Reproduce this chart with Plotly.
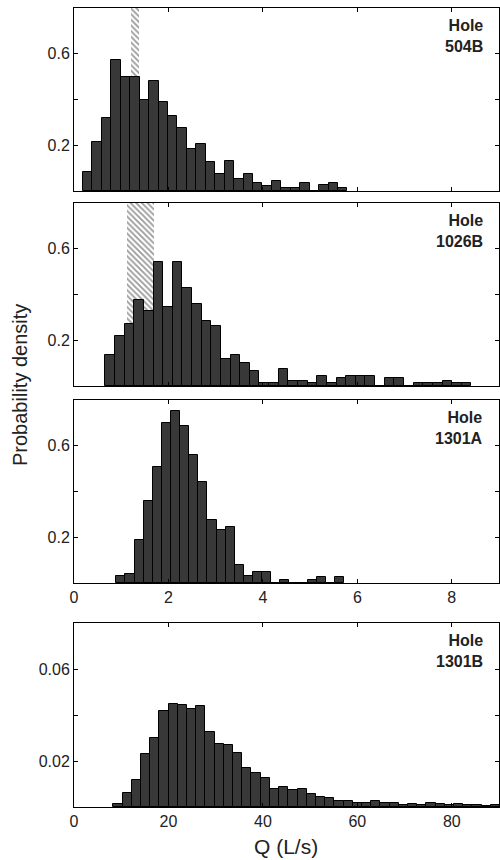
import plotly.graph_objects as go

# ---------------- data ----------------
# Hole 504B: bins start at 0.19, width 0.2
h504_start = 0.19
h504_width = 0.2
h504_density = [0.084, 0.216, 0.319, 0.571, 0.50, 0.50, 0.398, 0.479, 0.389, 0.328,
                0.277, 0.185, 0.206, 0.126, 0.075, 0.133, 0.054, 0.073, 0.033, 0.020,
                0.042, 0.013, 0.013, 0.035, 0.0, 0.025, 0.035, 0.013]
h504_hatch = [1.20, 1.38]

# Hole 1026B: bins start at 0.664, width 0.204
h1026_start = 0.664
h1026_width = 0.204
h1026_density = [0.136, 0.220, 0.271, 0.377, 0.327, 0.543, 0.345, 0.543, 0.430, 0.357,
                 0.283, 0.263, 0.117, 0.136, 0.099, 0.065, 0.012, 0.012, 0.076, 0.020,
                 0.020, 0.012, 0.044, 0.012, 0.035, 0.044, 0.044, 0.044, 0.0, 0.035,
                 0.035, 0.0, 0.012, 0.012, 0.012, 0.022, 0.012, 0.012]
h1026_hatch = [1.12, 1.70]

# Hole 1301A: bins start at 0.896, width 0.193
h1301a_start = 0.896
h1301a_width = 0.193
h1301a_density = [0.031, 0.041, 0.190, 0.359, 0.506, 0.699, 0.750, 0.687, 0.559, 0.441,
                  0.275, 0.231, 0.243, 0.078, 0.032, 0.047, 0.047, 0.0, 0.015, 0.0,
                  0.0, 0.015, 0.025, 0.0, 0.025]

# Hole 1301B: bins start at 8.33, width 1.95
h1301b_start = 8.33
h1301b_width = 1.95
h1301b_density = [0.0013, 0.0063, 0.0117, 0.0231, 0.0301, 0.0418, 0.0450, 0.0442, 0.0426, 0.0441,
                  0.0324, 0.0274, 0.0270, 0.0236, 0.0168, 0.0147, 0.0127, 0.0078, 0.0085, 0.0073,
                  0.0080, 0.0058, 0.0044, 0.0041, 0.0026, 0.0028, 0.0019, 0.0016, 0.0026, 0.0019,
                  0.0016, 0.0009, 0.0012, 0.0007, 0.0019, 0.0012, 0.0007, 0.0015, 0.0007, 0.0010,
                  0.0006, 0.0007]

panel_labels = ["Hole<br>504B", "Hole<br>1026B", "Hole<br>1301A", "Hole<br>1301B"]

x_ranges = [[0, 9], [0, 9], [0, 9], [0, 90]]
x_ticks = [[0, 2, 4, 6, 8], [0, 2, 4, 6, 8], [0, 2, 4, 6, 8], [0, 20, 40, 60, 80]]
x_ticktext = [["", "", "", "", ""], ["", "", "", "", ""],
              ["0", "2", "4", "6", "8"], ["0", "20", "40", "60", "80"]]
y_ranges = [[0, 0.8], [0, 0.8], [0, 0.8], [0, 0.08]]
y_ticks = [[0.2, 0.4, 0.6], [0.2, 0.4, 0.6], [0.2, 0.4, 0.6], [0.02, 0.04, 0.06]]
y_ticktext = [["0.2", "", "0.6"], ["0.2", "", "0.6"], ["0.2", "", "0.6"], ["0.02", "", "0.06"]]

# ---------------- figure ----------------
W, H = 500, 860
ML, MR, MT, MB = 74, 1, 8, 53
plot_h = H - MT - MB

# panel pixel extents (top, bottom)
panel_px = [(8, 191), (203, 386), (400, 583), (623, 807)]
domains = [[(H - MB - b) / plot_h, (H - MB - t) / plot_h] for t, b in panel_px]

fig = go.Figure()

panels = [
    (h504_start, h504_width, h504_density, h504_hatch),
    (h1026_start, h1026_width, h1026_density, h1026_hatch),
    (h1301a_start, h1301a_width, h1301a_density, None),
    (h1301b_start, h1301b_width, h1301b_density, None),
]

bar_fill = "#383838"
font_fam = "Liberation Sans, Arial, sans-serif"

for i, (start, width, dens, hatch) in enumerate(panels):
    xa = "x" if i == 0 else f"x{i+1}"
    ya = "y" if i == 0 else f"y{i+1}"
    if hatch is not None:
        fig.add_trace(go.Bar(
            x=[(hatch[0] + hatch[1]) / 2], y=[y_ranges[i][1]], width=[hatch[1] - hatch[0]],
            marker=dict(color="white", line=dict(width=0),
                        pattern=dict(shape="\\", fgcolor="#333333", bgcolor="white",
                                     size=4, solidity=0.45)),
            xaxis=xa, yaxis=ya, showlegend=False, hoverinfo="skip"))
    centers = [start + width * (k + 0.5) for k in range(len(dens))]
    fig.add_trace(go.Bar(
        x=centers, y=dens, width=[width] * len(dens),
        marker=dict(color=bar_fill, line=dict(color="black", width=1)),
        xaxis=xa, yaxis=ya, showlegend=False))

    xkey = "xaxis" if i == 0 else f"xaxis{i+1}"
    ykey = "yaxis" if i == 0 else f"yaxis{i+1}"
    axis_common = dict(showline=True, linecolor="black", linewidth=1, mirror="ticks",
                       ticks="inside", ticklen=4, tickcolor="black", showgrid=False,
                       zeroline=False, tickfont=dict(family=font_fam, size=16, color="#222"))
    fig.update_layout({
        xkey: dict(axis_common, domain=[0, 1], range=x_ranges[i], anchor=ya,
                   tickmode="array", tickvals=x_ticks[i], ticktext=x_ticktext[i]),
        ykey: dict(axis_common, domain=domains[i], range=y_ranges[i], anchor=xa,
                   tickmode="array", tickvals=y_ticks[i], ticktext=y_ticktext[i]),
    })
    fig.add_annotation(
        text=f"<b>{panel_labels[i]}</b>", xref=f"{xa} domain", yref=f"{ya} domain",
        x=0.966, y=0.96, xanchor="right", yanchor="top", align="right", showarrow=False,
        font=dict(family=font_fam, size=16, color="#222"))

fig.add_annotation(text="Probability density", xref="paper", yref="paper",
                   x=(20 - ML) / (W - ML - MR), y=(H - MB - 385) / plot_h,
                   xanchor="center", yanchor="middle", textangle=-90, showarrow=False,
                   font=dict(family=font_fam, size=20, color="#222"))
fig.add_annotation(text="Q (L/s)", xref="paper", yref="paper",
                   x=(286 - ML) / (W - ML - MR), y=(H - MB - 846) / plot_h,
                   xanchor="center", yanchor="middle", showarrow=False,
                   font=dict(family=font_fam, size=21, color="#222"))

fig.update_layout(width=W, height=H, margin=dict(l=ML, r=MR, t=MT, b=MB),
                  barmode="overlay", bargap=0, paper_bgcolor="white",
                  plot_bgcolor="white", showlegend=False)

fig.write_html("out.html", config={"displayModeBar": False},
               post_script="document.body.style.margin='0';")
